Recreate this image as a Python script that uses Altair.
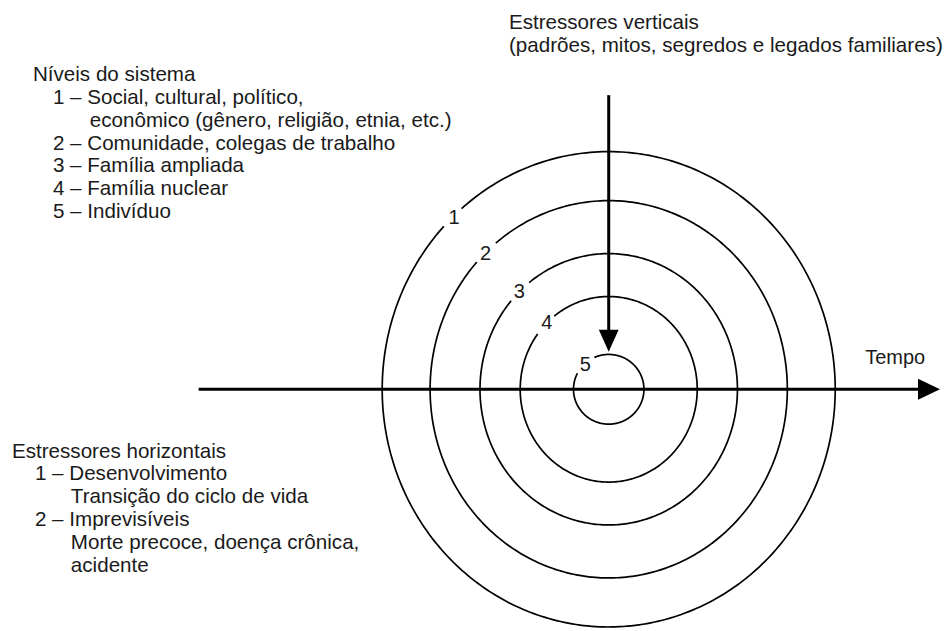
import altair as alt
import numpy as np
import pandas as pd

# ---------------- data ----------------
CENTER_X, CENTER_Y = 610, 393

ring_ids = [1, 2, 3, 4, 5]
ring_rx = [227, 179, 129, 88.7, 35.3]
ring_ry = [240, 190.5, 137, 93.7, 35.2]
gap_from = [130.5, 129.2, 128.2, 128.0, 114.0]   # degrees where the label gap starts
gap_to = [136.7, 137.6, 139.3, 143.5, 152.6]     # degrees where the label gap ends

ring_label_x = [455, 486.5, 520.5, 548, 586.5]
ring_label_y = [220, 256.5, 295, 326.5, 368.3]

title_v = ["Estressores verticais",
           "(padrões, mitos, segredos e legados familiares)"]
title_v_x = [510, 510]
title_v_y = [29, 52]

levels = ["Níveis do sistema",
          "1 – Social, cultural, político,",
          "econômico (gênero, religião, etnia, etc.)",
          "2 – Comunidade, colegas de trabalho",
          "3 – Família ampliada",
          "4 – Família nuclear",
          "5 – Indivíduo"]
levels_x = [33, 53, 90, 53, 53, 53, 53]
levels_y = [82, 105, 128, 151, 174, 197, 220]

horiz = ["Estressores horizontais",
         "1 – Desenvolvimento",
         "Transição do ciclo de vida",
         "2 – Imprevisíveis",
         "Morte precoce, doença crônica,",
         "acidente"]
horiz_x = [12, 35, 71, 35, 71, 71]
horiz_y = [462, 485, 508, 531, 554, 577]

time_label = ["Tempo"]
time_x = [867]
time_y = [367]

# axis lines (start/end) and arrow heads
h_line_x = [199, 935]
h_line_y = [393, 393]
v_line_x = [610, 610]
v_line_y = [96, 345]
head_x = [610, 931]
head_y = [344, 393]
head_dir = ["down", "right"]

# ---------------- build tables ----------------
rows = []
for rid, rx, ry, g0, g1 in zip(ring_ids, ring_rx, ring_ry, gap_from, gap_to):
    angles = list(np.arange(g1, g0 + 360, 1.0)) + [g0 + 360]
    for k, a in enumerate(angles):
        rows.append({"ring": rid, "rx": rx, "ry": ry, "a": float(a), "k": k})
ring_df = pd.DataFrame(rows)

X = alt.Scale(domain=[8, 942], nice=False, zero=False)
Y = alt.Scale(domain=[8, 631], nice=False, zero=False, reverse=True)

rings = alt.Chart(ring_df).transform_calculate(
    px=f"{CENTER_X} + datum.rx * cos(datum.a * PI / 180)",
    py=f"{CENTER_Y} - datum.ry * sin(datum.a * PI / 180)",
).mark_line(color="black", strokeWidth=1.7, clip=False).encode(
    x=alt.X("px:Q", scale=X, axis=None),
    y=alt.Y("py:Q", scale=Y, axis=None),
    detail="ring:N",
    order="k:Q",
)

hline = alt.Chart(pd.DataFrame({"x": h_line_x, "y": h_line_y})).mark_line(
    color="black", strokeWidth=3).encode(
    x=alt.X("x:Q", scale=X, axis=None), y=alt.Y("y:Q", scale=Y, axis=None))

vline = alt.Chart(pd.DataFrame({"x": v_line_x, "y": v_line_y})).mark_line(
    color="black", strokeWidth=3).encode(
    x=alt.X("x:Q", scale=X, axis=None), y=alt.Y("y:Q", scale=Y, axis=None))

head_df = pd.DataFrame({"x": head_x, "y": head_y, "dir": head_dir})
head_down = alt.Chart(head_df[head_df["dir"] == "down"]).mark_point(
    shape="M-0.9,-1L0.9,-1L0,1Z", size=484, filled=True, color="black",
    opacity=1, strokeWidth=0).encode(
    x=alt.X("x:Q", scale=X, axis=None), y=alt.Y("y:Q", scale=Y, axis=None))
head_right = alt.Chart(head_df[head_df["dir"] == "right"]).mark_point(
    shape="M-1,-0.95L1,0L-1,0.95Z", size=484, filled=True, color="black",
    opacity=1, strokeWidth=0).encode(
    x=alt.X("x:Q", scale=X, axis=None), y=alt.Y("y:Q", scale=Y, axis=None))

FONT = "Liberation Sans"


def text_layer(texts, xs, ys, size, align="left", baseline="alphabetic"):
    df = pd.DataFrame({"t": texts, "x": xs, "y": ys})
    return alt.Chart(df).mark_text(
        font=FONT, fontSize=size, align=align, baseline=baseline,
        color="#1a1a1a").encode(
        x=alt.X("x:Q", scale=X, axis=None),
        y=alt.Y("y:Q", scale=Y, axis=None),
        text="t:N")


ring_labels = text_layer([str(i) for i in ring_ids], ring_label_x, ring_label_y,
                         20, align="center", baseline="middle")

chart = alt.layer(
    rings, hline, vline, head_down, head_right, ring_labels,
    text_layer(title_v, title_v_x, title_v_y, 20.6),
    text_layer(levels, levels_x, levels_y, 20.6),
    text_layer(horiz, horiz_x, horiz_y, 20.6),
    text_layer(time_label, time_x, time_y, 20),
).properties(
    width=934, height=623, padding=0,
    autosize=alt.AutoSizeParams(type="fit", contains="padding"),
    background="white",
).configure_view(stroke=None)

chart.save("out.html", embed_options={"renderer": "svg", "actions": False})
